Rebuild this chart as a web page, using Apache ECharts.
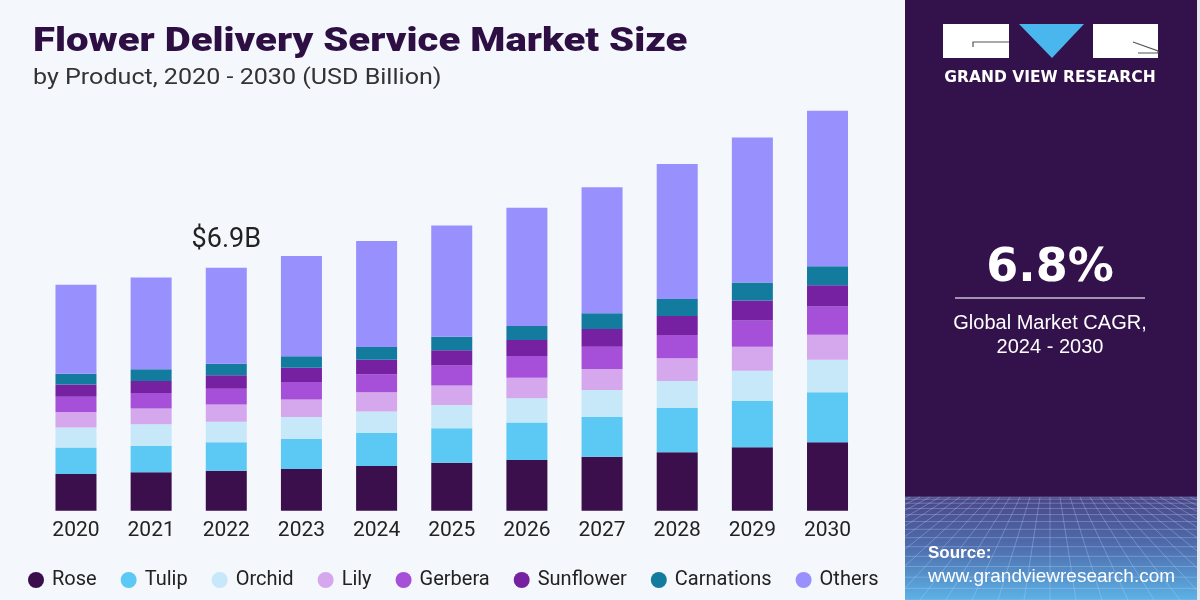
<!DOCTYPE html>
<html>
<head>
<meta charset="utf-8">
<title>Flower Delivery Service Market Size</title>
<script src="https://cdn.jsdelivr.net/npm/echarts@6/dist/echarts.min.js"></script>
<style>
    html, body { margin: 0; padding: 0; background: #f4f7fb; }
    #chart { width: 1200px; height: 600px; }
</style>
</head>
<body>
<div id="chart"></div>
<script>
// Values in USD Billion (bottom to top of each stack)
const years      = ['2020', '2021', '2022', '2023', '2024', '2025', '2026', '2027', '2028', '2029', '2030'];
const rose       = [1.04, 1.09, 1.13, 1.18, 1.27, 1.36, 1.44, 1.53, 1.66, 1.80, 1.94];
const tulip      = [0.75, 0.75, 0.81, 0.85, 0.93, 0.98, 1.06, 1.13, 1.25, 1.31, 1.42];
const orchid     = [0.57, 0.61, 0.58, 0.63, 0.61, 0.66, 0.69, 0.76, 0.77, 0.86, 0.92];
const lily       = [0.44, 0.45, 0.49, 0.49, 0.55, 0.55, 0.58, 0.60, 0.64, 0.68, 0.71];
const gerbera    = [0.43, 0.44, 0.45, 0.50, 0.51, 0.57, 0.62, 0.63, 0.66, 0.74, 0.80];
const sunflower  = [0.35, 0.34, 0.38, 0.40, 0.41, 0.43, 0.45, 0.50, 0.54, 0.57, 0.60];
const carnations = [0.30, 0.33, 0.33, 0.33, 0.36, 0.38, 0.40, 0.45, 0.48, 0.51, 0.54];
const others     = [2.53, 2.60, 2.72, 2.84, 3.01, 3.16, 3.35, 3.57, 3.83, 4.11, 4.41];

const calloutIndex = 2;          // 2022 bar carries the value label
const calloutText  = '$6.9B';
const cagrText     = '6.8%';

const C = {
    rose: '#3a0f4b', tulip: '#5cc9f5', orchid: '#c6e8f9', lily: '#d5a7ec',
    gerbera: '#a64fd8', sunflower: '#7521a2', carnations: '#137b9d', others: '#9891fd',
    panel: '#33124c', ink: '#2e0f43', text: '#222222',
};
const FONT = "Roboto, 'Liberation Sans', sans-serif";

const stacks = [
    ['Rose', rose, C.rose], ['Tulip', tulip, C.tulip], ['Orchid', orchid, C.orchid],
    ['Lily', lily, C.lily], ['Gerbera', gerbera, C.gerbera], ['Sunflower', sunflower, C.sunflower],
    ['Carnations', carnations, C.carnations], ['Others', others, C.others],
];

const series = stacks.map(([name, vals, color]) => ({
    name,
    type: 'bar',
    stack: 'total',
    barWidth: 41,
    itemStyle: { color },
    emphasis: { disabled: true },
    data: name !== 'Others' ? vals : vals.map((v, i) => i !== calloutIndex ? v : {
        value: v,
        label: {
            show: true, position: 'top', distance: 14,
            formatter: calloutText, color: C.text, fontSize: 27, fontFamily: FONT,
        },
    }),
}));

// decorative perspective grid on the floor of the right panel, clipped to the panel
const floorTop = 497, panelL = 905, panelR = 1197;
const floorLines = [];
const lineStyle = { stroke: 'rgba(190,215,255,0.32)', lineWidth: 1 };
for (let k = 0; k < 14; k++) {
    const y = floorTop + 103 * Math.pow(k / 13, 1.5);
    floorLines.push({ type: 'line', silent: true, shape: { x1: panelL, y1: y, x2: panelR, y2: y }, style: lineStyle });
}
for (let k = -24; k <= 24; k++) {
    let x1 = 1050 + k * 10, y1 = floorTop, x2 = 1050 + k * 26, y2 = 600;
    const clipTo = (xe) => { const t = (xe - x1) / (x2 - x1); return [xe, y1 + t * (y2 - y1)]; };
    if (x1 < panelL || x1 > panelR) continue;
    if (x2 < panelL) [x2, y2] = clipTo(panelL);
    if (x2 > panelR) [x2, y2] = clipTo(panelR);
    floorLines.push({ type: 'line', silent: true, shape: { x1, y1, x2, y2 }, style: lineStyle });
}

const chart = echarts.init(document.getElementById('chart'));
chart.setOption({
    backgroundColor: '#f4f7fb',
    animation: false,
    grid: { left: 38.4, right: 334.9, top: 87.5, bottom: 89.3, containLabel: false },
    legend: {
        left: 23, top: 565,
        icon: 'circle', itemWidth: 16, itemHeight: 16, itemGap: 24,
        textStyle: { color: C.text, fontSize: 20, fontFamily: FONT, padding: [0, 0, 0, 3] },
        data: stacks.map(s => s[0]),
    },
    xAxis: {
        type: 'category',
        data: years,
        axisLine: { show: false },
        axisTick: { show: false },
        axisLabel: { color: C.text, fontSize: 21, fontFamily: FONT, margin: 10 },
    },
    yAxis: {
        type: 'value', min: 0, max: 12,
        show: false,
        splitLine: { show: false },
    },
    series,
    graphic: [
        // title block (stretched horizontally like the reference lettering)
        { type: 'text', x: 33, y: 25, scaleX: 1.18, style: {
            text: 'Flower Delivery Service Market Size', fill: C.ink,
            font: `900 34px ${FONT}`,
        } },
        { type: 'text', x: 33, y: 67, scaleX: 1.14, style: {
            text: 'by Product, 2020 - 2030 (USD Billion)', fill: '#333333',
            font: `22px ${FONT}`,
        } },
        // right panel
        { type: 'rect', shape: { x: panelL, y: 0, width: panelR - panelL, height: 600 }, style: { fill: C.panel } },
        { type: 'rect', shape: { x: panelL, y: floorTop, width: panelR - panelL, height: 103 }, style: {
            fill: new echarts.graphic.LinearGradient(0, 0, 0, 1, [
                { offset: 0, color: '#4a4687' },
                { offset: 0.5, color: '#4f6fae' },
                { offset: 1, color: '#5cb2e6' },
            ]),
        } },
        ...floorLines,
        { type: 'rect', shape: { x: panelR, y: 0, width: 3, height: 600 }, style: { fill: '#e6e8ee' } },
        // logo
        { type: 'rect', shape: { x: 943, y: 24, width: 66, height: 34 }, style: { fill: '#ffffff' } },
        { type: 'polyline', shape: { points: [[973, 47], [973, 42], [1009, 42]] }, style: { stroke: '#555555', lineWidth: 1.2, fill: null } },
        { type: 'polygon', shape: { points: [[1019, 24], [1084, 24], [1052, 58]] }, style: { fill: '#4ab6ee' } },
        { type: 'rect', shape: { x: 1093, y: 24, width: 65, height: 34 }, style: { fill: '#ffffff' } },
        { type: 'polyline', shape: { points: [[1133, 42], [1158, 51], [1158, 53], [1138, 53]] }, style: { stroke: '#555555', lineWidth: 1.2, fill: null } },
        { type: 'text', x: 1050, y: 78, style: {
            text: 'GRAND VIEW RESEARCH', fill: '#ffffff', align: 'center', verticalAlign: 'middle',
            font: "bold 15.5px 'DejaVu Sans', sans-serif",
        } },
        // CAGR
        { type: 'text', x: 1050, y: 269, style: {
            text: cagrText, fill: '#ffffff', align: 'center', verticalAlign: 'middle',
            font: "bold 46px 'DejaVu Sans', sans-serif",
        } },
        { type: 'line', shape: { x1: 955, y1: 298, x2: 1145, y2: 298 }, style: { stroke: '#c9bcd8', lineWidth: 1.5 } },
        { type: 'text', x: 1050, y: 323, style: {
            text: 'Global Market CAGR,', fill: '#ffffff', align: 'center', verticalAlign: 'middle',
            font: "20px 'Liberation Sans', sans-serif",
        } },
        { type: 'text', x: 1050, y: 347, style: {
            text: '2024 - 2030', fill: '#ffffff', align: 'center', verticalAlign: 'middle',
            font: "20px 'Liberation Sans', sans-serif",
        } },
        // source
        { type: 'text', x: 928, y: 553, style: {
            text: 'Source:', fill: '#ffffff', verticalAlign: 'middle',
            font: "bold 17px 'Liberation Sans', sans-serif",
        } },
        { type: 'text', x: 928, y: 577, style: {
            text: 'www.grandviewresearch.com', fill: '#ffffff', verticalAlign: 'middle',
            font: "19px 'Liberation Sans', sans-serif",
        } },
    ],
});
</script>
</body>
</html>
